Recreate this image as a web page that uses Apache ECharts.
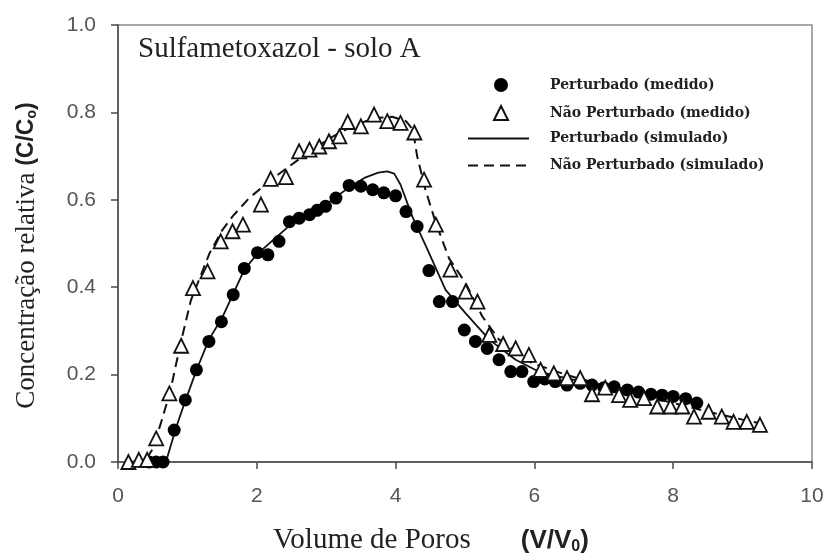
<!DOCTYPE html>
<html>
<head>
<meta charset="utf-8">
<script src="https://cdn.jsdelivr.net/npm/echarts@6/dist/echarts.min.js"></script>
<style>
  html, body { margin: 0; padding: 0; background: #fff; }
  #chart { width: 828px; height: 553px; }
</style>
</head>
<body>
<div id="chart"></div>
<script>
// measured points [pore volume, C/C0]
var perturbadoMedido = [
  [0.45, 0], [0.55, 0], [0.65, 0], [0.81, 0.073], [0.97, 0.142], [1.13, 0.211],
  [1.31, 0.276], [1.49, 0.321], [1.66, 0.383], [1.82, 0.443], [2.01, 0.479],
  [2.16, 0.474], [2.32, 0.505], [2.47, 0.55], [2.61, 0.558], [2.76, 0.566],
  [2.87, 0.576], [2.99, 0.585], [3.14, 0.604], [3.33, 0.633], [3.50, 0.631],
  [3.67, 0.623], [3.83, 0.616], [4.0, 0.609], [4.15, 0.573], [4.31, 0.539],
  [4.48, 0.438], [4.63, 0.367], [4.82, 0.367], [4.99, 0.302], [5.15, 0.276],
  [5.32, 0.26], [5.49, 0.234], [5.66, 0.207], [5.82, 0.207], [5.99, 0.184],
  [6.15, 0.19], [6.30, 0.184], [6.47, 0.176], [6.66, 0.18], [6.83, 0.176],
  [7.0, 0.17], [7.15, 0.172], [7.34, 0.165], [7.5, 0.16], [7.68, 0.155],
  [7.84, 0.153], [8.0, 0.15], [8.18, 0.145], [8.34, 0.135]
];
var naoPerturbadoMedido = [
  [0.15, 0], [0.3, 0.005], [0.42, 0.005], [0.55, 0.054], [0.74, 0.157],
  [0.91, 0.266], [1.08, 0.398], [1.29, 0.436], [1.48, 0.505], [1.65, 0.528],
  [1.80, 0.543], [2.06, 0.589], [2.20, 0.648], [2.42, 0.652], [2.61, 0.711],
  [2.76, 0.715], [2.90, 0.722], [3.04, 0.734], [3.19, 0.745], [3.31, 0.778],
  [3.50, 0.768], [3.69, 0.795], [3.88, 0.78], [4.07, 0.776], [4.27, 0.754],
  [4.41, 0.646], [4.58, 0.543], [4.79, 0.44], [5.01, 0.39], [5.18, 0.367],
  [5.35, 0.291], [5.55, 0.27], [5.73, 0.26], [5.92, 0.245], [6.09, 0.211],
  [6.28, 0.203], [6.47, 0.192], [6.66, 0.192], [6.83, 0.155], [7.02, 0.17],
  [7.22, 0.153], [7.38, 0.142], [7.58, 0.146], [7.77, 0.127], [7.96, 0.127],
  [8.13, 0.127], [8.30, 0.104], [8.51, 0.115], [8.70, 0.104], [8.87, 0.092],
  [9.06, 0.092], [9.25, 0.085]
];
// simulated curves
var perturbadoSimulado = [
  [0.2, 0], [0.69, 0], [0.84, 0.08], [0.97, 0.14], [1.13, 0.21], [1.31, 0.28],
  [1.5, 0.33], [1.66, 0.385], [1.82, 0.44], [2.0, 0.475], [2.25, 0.51],
  [2.5, 0.545], [2.75, 0.567], [3.0, 0.59], [3.3, 0.625], [3.55, 0.65],
  [3.75, 0.662], [3.88, 0.665], [3.98, 0.66], [4.07, 0.635], [4.24, 0.562],
  [4.46, 0.486], [4.72, 0.394], [5.01, 0.34], [5.35, 0.28], [5.73, 0.234],
  [6.06, 0.207], [6.5, 0.19], [6.83, 0.18], [7.3, 0.168], [7.8, 0.155], [8.4, 0.14]
];
var naoPerturbadoSimulado = [
  [0.2, 0], [0.4, 0.005], [0.5, 0.03], [0.62, 0.09], [0.75, 0.16], [0.9, 0.27],
  [1.05, 0.37], [1.2, 0.43], [1.32, 0.478], [1.5, 0.53], [1.65, 0.562],
  [1.89, 0.604], [2.2, 0.645], [2.47, 0.677], [2.8, 0.715], [3.1, 0.745],
  [3.4, 0.77], [3.7, 0.787], [3.95, 0.79], [4.15, 0.78], [4.25, 0.76],
  [4.31, 0.70], [4.43, 0.623], [4.58, 0.547], [4.77, 0.466], [5.01, 0.409],
  [5.25, 0.333], [5.49, 0.28], [5.97, 0.226], [6.45, 0.2], [7.0, 0.175],
  [7.5, 0.155], [8.0, 0.135], [8.5, 0.115], [9.0, 0.097], [9.3, 0.087]
];

var serif = '"Liberation Serif", "Times New Roman", serif';
var sans = '"Liberation Sans", Arial, sans-serif';
var axisColor = '#4a4a4a';
var legendText = {
  fontFamily: '"DejaVu Serif", serif', fontWeight: 'bold', fontSize: 14,
  color: '#222', lineHeight: 14
};

var myChart = echarts.init(document.getElementById('chart'));
myChart.setOption({
  animation: false,
  backgroundColor: '#fff',
  title: {
    text: 'Sulfametoxazol - solo A',
    left: 138, top: 35, padding: 0,
    textStyle: { fontFamily: serif, fontSize: 29, fontWeight: 'normal', color: '#222' }
  },
  legend: [
    {
      data: ['Perturbado (medido)', 'Não Perturbado (medido)'],
      orient: 'vertical', left: 493, top: 78, padding: 0,
      itemWidth: 14, itemHeight: 14, itemGap: 13,
      textStyle: Object.assign({ padding: [0, 0, 0, 37] }, legendText)
    },
    {
      data: ['Perturbado (simulado)', 'Não Perturbado (simulado)'],
      orient: 'vertical', left: 467, top: 131.5, padding: 0,
      itemWidth: 61, itemHeight: 14, itemGap: 13,
      itemStyle: { opacity: 0 },
      textStyle: Object.assign({ padding: [0, 0, 0, 16] }, legendText)
    }
  ],
  grid: {
    left: 118, right: 16, top: 25, bottom: 91,
    outerBoundsMode: 'none',
    show: true, borderColor: '#8a8a8a', borderWidth: 1.5
  },
  xAxis: {
    type: 'value', min: 0, max: 10, interval: 2,
    name: '{a|Volume de Poros}{g| }{b|(V/V}{s|0}{b|)}',
    nameLocation: 'middle', nameGap: 64,
    nameTextStyle: {
      padding: [0, 68, 0, 0],
      rich: {
        a: { fontFamily: serif, fontSize: 29, color: '#222' },
        g: { width: 50 },
        b: { fontFamily: sans, fontSize: 26, fontWeight: 'bold', color: '#222' },
        s: { fontFamily: sans, fontSize: 16, fontWeight: 'bold', color: '#222', padding: [12, 0, 0, 0] }
      }
    },
    axisLine: { lineStyle: { color: axisColor, width: 1.5 } },
    axisTick: { inside: false, length: 7, lineStyle: { color: axisColor, width: 1.5 } },
    axisLabel: { margin: 24, fontFamily: sans, fontSize: 21, color: '#555' },
    splitLine: { show: false }
  },
  yAxis: {
    type: 'value', min: 0, max: 1, interval: 0.2,
    name: '{a|Concentração relativa }{b|(C/C}{s|o}{b|)}',
    nameLocation: 'middle', nameGap: 78,
    nameTextStyle: {
      padding: [0, 24, 0, 0],
      rich: {
        a: { fontFamily: serif, fontSize: 27, color: '#222' },
        b: { fontFamily: sans, fontSize: 23, fontWeight: 'bold', color: '#222' },
        s: { fontFamily: sans, fontSize: 14, fontWeight: 'bold', color: '#222', padding: [11, 0, 0, 0] }
      }
    },
    axisLine: { show: true, lineStyle: { color: axisColor, width: 1.5 } },
    axisTick: { show: true, inside: false, length: 7, lineStyle: { color: axisColor, width: 1.5 } },
    axisLabel: {
      margin: 22, fontFamily: sans, fontSize: 21, color: '#555',
      formatter: function (v) { return v.toFixed(1); }
    },
    splitLine: { show: false }
  },
  series: [
    {
      name: 'Perturbado (simulado)', type: 'line', data: perturbadoSimulado,
      symbol: 'none', z: 2,
      itemStyle: { color: '#111' },
      lineStyle: { color: '#111', width: 1.8, type: 'solid' }
    },
    {
      name: 'Não Perturbado (simulado)', type: 'line', data: naoPerturbadoSimulado,
      symbol: 'none', z: 2,
      itemStyle: { color: '#111' },
      lineStyle: { color: '#111', width: 2, type: [10, 6] }
    },
    {
      name: 'Perturbado (medido)', type: 'scatter', data: perturbadoMedido,
      symbol: 'circle', symbolSize: 13, z: 3,
      itemStyle: { color: '#000', opacity: 1 }
    },
    {
      name: 'Não Perturbado (medido)', type: 'scatter', data: naoPerturbadoMedido,
      symbol: 'triangle', symbolSize: 14, z: 4,
      itemStyle: { color: '#fff', borderColor: '#111', borderWidth: 1.8, opacity: 1 }
    }
  ]
});
</script>
</body>
</html>
